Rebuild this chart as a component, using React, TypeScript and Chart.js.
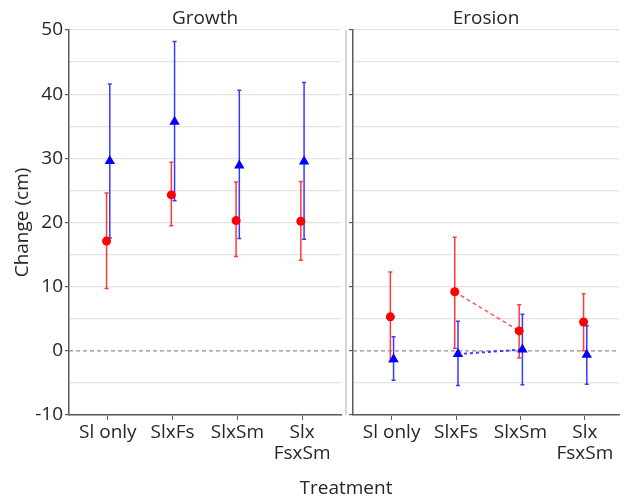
import { useEffect, useRef } from 'react';
import { Chart, registerables } from 'chart.js';

Chart.register(...registerables);

// ---- data ----
const categories = ['Sl only', 'SlxFs', 'SlxSm', 'Slx\nFsxSm'];

const growthRed = [17.1, 24.3, 20.3, 20.2];
const growthRedLow = [9.7, 19.5, 14.7, 14.1];
const growthRedHigh = [24.6, 29.4, 26.3, 26.4];
const growthBlue = [29.6, 35.7, 28.9, 29.5];
const growthBlueLow = [17.6, 23.4, 17.5, 17.4];
const growthBlueHigh = [41.6, 48.2, 40.6, 41.8];

const erosionRed = [5.3, 9.2, 3.1, 4.5];
const erosionRedLow = [-1.7, 0.4, -1.1, 0.0];
const erosionRedHigh = [12.3, 17.7, 7.2, 8.9];
const erosionBlue = [-1.3, -0.5, 0.2, -0.6];
const erosionBlueLow = [-4.6, -5.4, -5.3, -5.2];
const erosionBlueHigh = [2.2, 4.6, 5.7, 3.9];
const erosionLinked = [1, 2];

const yTickValues = { min: -10, max: 50, step: 5, labelStep: 10 };

// ---- styles ----
const FONT = 'Open Sans';
const TEXT = '#262626';
const AXIS = '#5a5a5a';
const GRID = '#e3e3e3';
const RED = '#ff0000';
const BLUE = '#0000ff';
const RED_BAR = '#ff3a3a';
const BLUE_BAR = '#3a3aff';
const RED_OFF = -0.02;
const BLUE_OFF = 0.03;

type Panel = {
  title: string;
  red: number[]; redLow: number[]; redHigh: number[];
  blue: number[]; blueLow: number[]; blueHigh: number[];
  linked: number[] | null;
  xMax: number;
  yWidth: number;
  showYLabels: boolean;
  titleFullSize: boolean;
  padRight: number;
  separator: boolean;
};

function makePlugin(p: Panel) {
  return {
    id: 'errBars_' + p.title,
    beforeDatasetsDraw(chart: any) {
      const { ctx, chartArea } = chart;
      const xs = chart.scales.x;
      const ys = chart.scales.y;
      ctx.save();
      // zero reference line
      const y0 = ys.getPixelForValue(0);
      ctx.strokeStyle = '#8c8c8c';
      ctx.lineWidth = 1.3;
      ctx.setLineDash([4, 3]);
      ctx.beginPath();
      ctx.moveTo(chartArea.left, y0);
      ctx.lineTo(chartArea.right, y0);
      ctx.stroke();
      ctx.setLineDash([]);
      const sets = [
        { off: RED_OFF, low: p.redLow, high: p.redHigh, color: RED_BAR },
        { off: BLUE_OFF, low: p.blueLow, high: p.blueHigh, color: BLUE_BAR },
      ];
      for (const s of sets) {
        ctx.strokeStyle = s.color;
        ctx.lineWidth = 1.5;
        for (let i = 0; i < s.low.length; i++) {
          const x = xs.getPixelForValue(i + s.off);
          const yl = ys.getPixelForValue(s.low[i]);
          const yh = ys.getPixelForValue(s.high[i]);
          ctx.beginPath();
          ctx.moveTo(x, yl);
          ctx.lineTo(x, yh);
          ctx.moveTo(x - 2, yl);
          ctx.lineTo(x + 2, yl);
          ctx.moveTo(x - 2, yh);
          ctx.lineTo(x + 2, yh);
          ctx.stroke();
        }
      }
      ctx.restore();
    },
    afterDraw(chart: any) {
      if (!p.separator) return;
      const { ctx, chartArea } = chart;
      ctx.save();
      ctx.strokeStyle = '#c8c8c8';
      ctx.lineWidth = 1.5;
      ctx.beginPath();
      ctx.moveTo(chart.width - 1, chartArea.top);
      ctx.lineTo(chart.width - 1, chartArea.bottom);
      ctx.stroke();
      ctx.restore();
    },
  };
}

function buildConfig(p: Panel): any {
  const datasets: any[] = [
    {
      type: 'scatter',
      data: p.red.map((v, i) => ({ x: i + RED_OFF, y: v })),
      pointStyle: 'circle',
      pointRadius: 4.5,
      backgroundColor: RED,
      borderWidth: 0,
    },
    {
      type: 'scatter',
      data: p.blue.map((v, i) => ({ x: i + BLUE_OFF, y: v })),
      pointStyle: 'triangle',
      pointRadius: 6,
      backgroundColor: BLUE,
      borderWidth: 0,
    },
  ];
  if (p.linked) {
    datasets.push({
      type: 'line',
      data: p.linked.map((i) => ({ x: i + RED_OFF, y: p.red[i] })),
      borderColor: '#ff5a5a',
      borderWidth: 1.5,
      borderDash: [4, 3],
      pointRadius: 0,
      fill: false,
    });
    datasets.push({
      type: 'line',
      data: p.linked.map((i) => ({ x: i + BLUE_OFF, y: p.blue[i] })),
      borderColor: '#3a3aff',
      borderWidth: 2,
      borderDash: [3, 3],
      pointRadius: 0,
      fill: false,
    });
  }
  const tickFont = { family: FONT, size: 19, lineHeight: 1.12 };
  return {
    type: 'scatter',
    data: { datasets },
    options: {
      animation: false,
      responsive: false,
      devicePixelRatio: 1,
      layout: { padding: { top: 0, left: 0, right: p.padRight, bottom: 0 } },
      plugins: {
        legend: { display: false },
        tooltip: { enabled: false },
        title: {
          display: true,
          text: p.title,
          color: TEXT,
          font: { family: FONT, size: 19, weight: 'normal' },
          padding: { top: 7.2, bottom: 0 },
          fullSize: p.titleFullSize,
        },
      },
      scales: {
        x: {
          type: 'linear',
          min: -0.6,
          max: p.xMax,
          afterBuildTicks: (s: any) => {
            s.ticks = categories.map((_, i) => ({ value: i }));
          },
          afterFit: (s: any) => {
            s.height = 84;
          },
          ticks: {
            autoSkip: false,
            maxRotation: 0,
            padding: 2,
            color: TEXT,
            font: tickFont,
            callback: (v: number) => {
              const c = categories[Math.round(v)];
              if (c === undefined) return '';
              return c.includes('\n') ? c.split('\n') : c;
            },
          },
          grid: { drawOnChartArea: false, tickLength: 5, tickColor: AXIS, tickWidth: 1 },
          border: { color: AXIS, width: 1.5 },
        },
        y: {
          type: 'linear',
          min: yTickValues.min,
          max: yTickValues.max,
          afterFit: (s: any) => {
            s.width = p.yWidth;
          },
          ticks: {
            display: p.showYLabels,
            stepSize: yTickValues.step,
            padding: 2,
            color: TEXT,
            font: tickFont,
            callback: (v: number) => (v % yTickValues.labelStep === 0 ? String(v) : ''),
          },
          grid: {
            lineWidth: 1.2,
            color: (c: any) => (c.tick && c.tick.value === 0 ? 'rgba(0,0,0,0)' : GRID),
            tickColor: (c: any) =>
              c.tick && c.tick.value % yTickValues.labelStep === 0 ? AXIS : 'rgba(0,0,0,0)',
            tickLength: 4,
          },
          border: { color: AXIS, width: 1.5 },
          title: p.showYLabels
            ? {
                display: true,
                text: 'Change (cm)',
                color: TEXT,
                font: { family: FONT, size: 19 },
                padding: { top: 11.6, bottom: 0 },
              }
            : { display: false },
        },
      },
    },
    plugins: [makePlugin(p)],
  };
}

const growthPanel: Panel = {
  title: 'Growth',
  red: growthRed, redLow: growthRedLow, redHigh: growthRedHigh,
  blue: growthBlue, blueLow: growthBlueLow, blueHigh: growthBlueHigh,
  linked: null,
  xMax: 3.6,
  yWidth: 69,
  showYLabels: true,
  titleFullSize: false,
  padRight: 2,
  separator: true,
};

const erosionPanel: Panel = {
  title: 'Erosion',
  red: erosionRed, redLow: erosionRedLow, redHigh: erosionRedHigh,
  blue: erosionBlue, blueLow: erosionBlueLow, blueHigh: erosionBlueHigh,
  linked: erosionLinked,
  xMax: 3.53,
  yWidth: 5,
  showYLabels: false,
  titleFullSize: true,
  padRight: 0,
  separator: false,
};

function PanelChart({ panel, left, width }: { panel: Panel; left: number; width: number }) {
  const ref = useRef<HTMLCanvasElement | null>(null);
  useEffect(() => {
    if (!ref.current) return;
    const chart = new Chart(ref.current, buildConfig(panel));
    return () => chart.destroy();
  }, [panel]);
  return (
    <canvas
      ref={ref}
      width={width}
      height={499}
      style={{ position: 'absolute', left, top: 0, width, height: 499 }}
    />
  );
}

export default function App() {
  return (
    <div
      style={{
        position: 'fixed',
        left: 0,
        top: 0,
        width: 625,
        height: 499,
        background: '#fff',
        overflow: 'hidden',
      }}
    >
      <PanelChart panel={growthPanel} left={0} width={347} />
      <PanelChart panel={erosionPanel} left={347} width={278} />
      <div
        style={{
          position: 'absolute',
          left: 246,
          width: 200,
          top: 476,
          textAlign: 'center',
          fontFamily: FONT,
          fontSize: 19,
          lineHeight: '22px',
          color: TEXT,
        }}
      >
        Treatment
      </div>
    </div>
  );
}
